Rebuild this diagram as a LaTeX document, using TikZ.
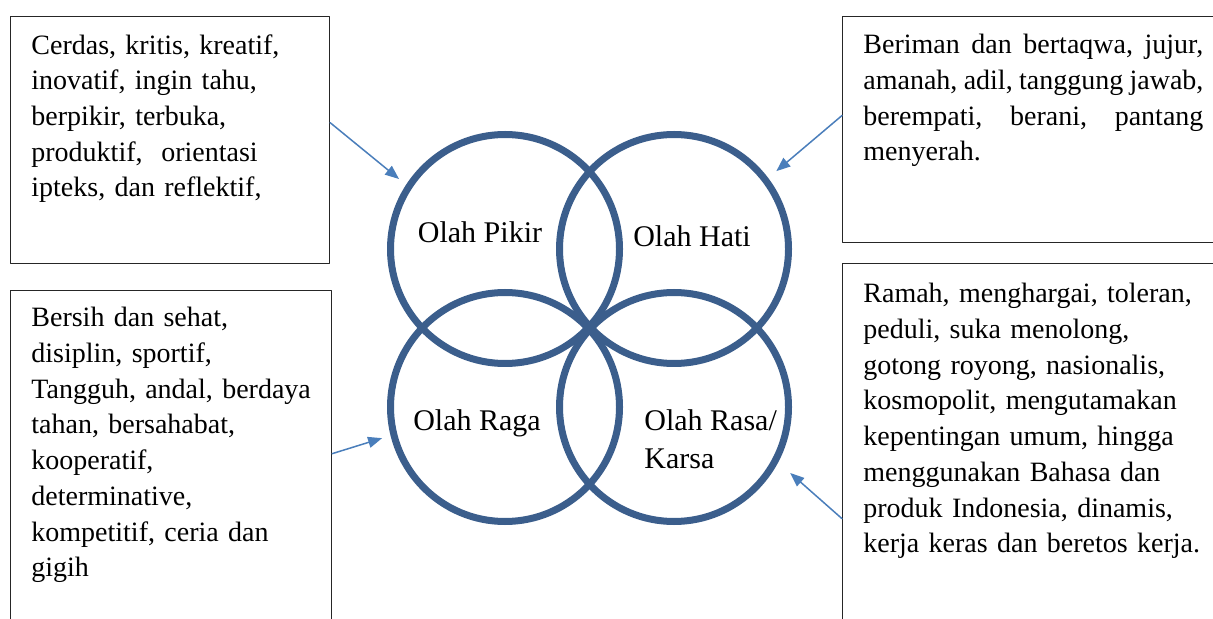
\documentclass[tikz,border=0pt]{standalone}
\usepackage{fontspec}
\setmainfont{Liberation Serif}
\usetikzlibrary{arrows.meta,calc}
\definecolor{ringblue}{RGB}{59,94,140}
\definecolor{arrowblue}{RGB}{74,126,187}
\begin{document}
\begin{tikzpicture}[x=0.5pt, y=-0.5pt, line cap=round, line join=round,
	ring/.style={circle, draw=ringblue, line width=3.5pt, minimum size=114.5pt, inner sep=0pt},
	frame/.style={rectangle, draw=black!85, line width=0.6pt, anchor=north west, inner sep=0pt},
	notes/.style={anchor=north west, inner sep=0pt, text width=#1, align=left, font=\fontsize{14}{17.85}\selectfont},
	olah/.style={inner sep=0pt, align=left, font=\fontsize{15}{19}\selectfont},
	pointer/.style={draw=arrowblue, line width=0.75pt, -{Triangle[length=7pt,width=5.5pt]}}]
	%Page
	\useasboundingbox (0,0) rectangle (1213,619);
	\clip (0,0) rectangle (1213,619);

	%Circles
	\node[ring] (pikir) at (505,249) {};
	\node[ring] (hati) at (674,249) {};
	\node[ring] (raga) at (505,407) {};
	\node[ring] (rasa) at (674,407) {};

	\node[olah, anchor=base] (tpikir) at (480,243) {Olah Pikir};
	\node[olah, anchor=base] (thati) at (692,247) {Olah Hati};
	\node[olah, anchor=base] (traga) at (477,430) {Olah Raga};
	\node[olah, anchor=north west] (trasa) at (644,409) {Olah Rasa/\\Karsa};

	%Boxes
	\node[frame, minimum width=159.5pt, minimum height=123.5pt] (pikbox) at (10,16) {};
	\node[frame, minimum width=160.5pt, minimum height=175pt] (ragabox) at (10,290) {};
	\node[frame, minimum width=191.5pt, minimum height=113pt] (hatibox) at (842,16) {};
	\node[frame, minimum width=191.5pt, minimum height=188.5pt] (rasabox) at (842,263) {};

	\node[notes=150pt] (tpik) at (31,34) {Cerdas, kritis, kreatif,\\
		inovatif, ingin tahu,\\
		berpikir, terbuka,\\
		produktif,\ \ orientasi\\
		ipteks, dan reflektif,};
	\node[notes=150pt] (trag) at (31,307) {Bersih dan sehat,\\
		disiplin, sportif,\\
		Tangguh, andal, berdaya\\
		tahan, bersahabat,\\
		kooperatif,\\
		determinative,\\
		kompetitif, ceria dan\\
		gigih};
	\node[notes=170pt] (that) at (863,34) {\makebox[170pt][l]{Beriman\hfill dan\hfill bertaqwa,\hfill jujur,}\\
		\makebox[170pt][l]{amanah,\hfill adil,\hfill tanggung\hfill jawab,}\\
		\makebox[170pt][l]{berempati,\hfill berani,\hfill pantang}\\
		menyerah.};
	\node[notes=175pt] (tras) at (863,283) {Ramah, menghargai, toleran,\\
		peduli, suka menolong,\\
		gotong royong, nasionalis,\\
		kosmopolit, mengutamakan\\
		kepentingan umum, hingga\\
		menggunakan Bahasa dan\\
		produk Indonesia, dinamis,\\
		kerja keras dan beretos kerja.};

	%Arrows
	\draw[pointer, shorten >=4.5pt] ($(pikbox.north east)!0.43!(pikbox.south east)$) -- (pikir.147);
	\draw[pointer, shorten >=5.3pt] ($(hatibox.north west)!0.438!(hatibox.south west)$) -- (hati.37);
	\draw[pointer, shorten >=4.4pt] ($(ragabox.north east)!0.466!(ragabox.south east)$) -- (raga.194);
	\draw[pointer, shorten >=8pt] ($(rasabox.north west)!0.676!(rasabox.south west)$) -- (rasa.-28.5);

\end{tikzpicture}
\end{document}
